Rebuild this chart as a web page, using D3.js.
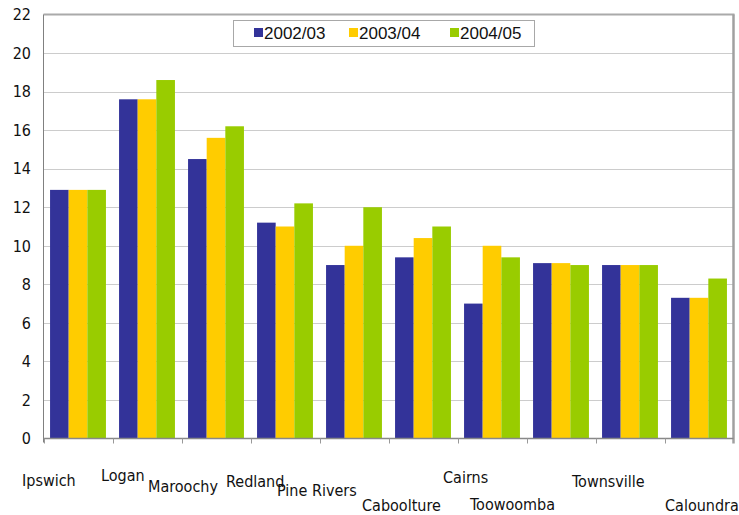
<!DOCTYPE html>
<html>
<head>
<meta charset="utf-8">
<script src="https://cdn.jsdelivr.net/npm/d3@7/dist/d3.min.js"></script>
<style>
  html, body { margin: 0; padding: 0; background: #fff; }
  svg { display: block; }
  .tick-label, .cat-label { font-family: "DejaVu Sans Condensed", "DejaVu Sans", sans-serif; font-stretch: condensed; font-size: 16px; fill: #111; }
  .legend-text { font-family: "Liberation Sans", Arial, sans-serif; font-size: 17px; fill: #111; }
</style>
</head>
<body>
<svg id="chart" width="739" height="515"></svg>
<script>
// Local government areas, in display order
const categories = ["Ipswich", "Logan", "Maroochy", "Redland", "Pine Rivers",
                    "Caboolture", "Cairns", "Toowoomba", "Townsville", "Caloundra"];
const seriesNames = ["2002/03", "2003/04", "2004/05"];
const values2002 = [12.9, 17.6, 14.5, 11.2, 9.0, 9.4, 7.0, 9.1, 9.0, 7.3];
const values2003 = [12.9, 17.6, 15.6, 11.0, 10.0, 10.4, 10.0, 9.1, 9.0, 7.3];
const values2004 = [12.9, 18.6, 16.2, 12.2, 12.0, 11.0, 9.4, 9.0, 9.0, 8.3];
const yTicks = [0, 2, 4, 6, 8, 10, 12, 14, 16, 18, 20, 22];

// Staggered category label placement: [x shift from band centre, baseline y]
const labelLayout = [
  [-56, 486], [-46, 481], [-68, 492], [-59, 487], [-77, 496],
  [-61, 511], [-49, 483], [-91, 510], [-58, 487], [-34, 511]
];

const colors = ["#333399", "#ffcc00", "#99cc00"];
const seriesValues = [values2002, values2003, values2004];

const svg = d3.select("#chart");
const plot = { left: 43.5, right: 733.5, top: 14.5, bottom: 438.5 };

const x = d3.scaleBand()
  .domain(categories)
  .range([plot.left, plot.right])
  .paddingInner(0.19)
  .paddingOuter(0.095);

const xSub = d3.scaleBand()
  .domain(seriesNames)
  .range([0, x.bandwidth()]);

const y = d3.scaleLinear()
  .domain([0, 22])
  .range([plot.bottom, plot.top]);

// Horizontal gridlines
svg.append("g")
  .selectAll("line")
  .data(yTicks.filter(t => t > 0 && t < 22))
  .join("line")
  .attr("x1", plot.left)
  .attr("x2", plot.right)
  .attr("y1", d => Math.round(y(d)) + 0.5)
  .attr("y2", d => Math.round(y(d)) + 0.5)
  .attr("stroke", "#cccccc")
  .attr("stroke-width", 1);

// Bars
const groups = svg.append("g")
  .selectAll("g")
  .data(categories)
  .join("g")
  .attr("transform", d => `translate(${x(d)},0)`);

groups.selectAll("rect")
  .data((d, i) => seriesNames.map((s, j) => ({ s, v: seriesValues[j][i], j })))
  .join("rect")
  .attr("x", d => xSub(d.s))
  .attr("width", xSub.bandwidth())
  .attr("y", d => y(d.v))
  .attr("height", d => y(0) - y(d.v))
  .attr("fill", d => colors[d.j]);

// Plot frame: top and right edges
svg.append("line")
  .attr("x1", plot.left).attr("x2", plot.right + 1)
  .attr("y1", plot.top).attr("y2", plot.top)
  .attr("stroke", "#aaaaaa").attr("stroke-width", 2);
svg.append("line")
  .attr("x1", plot.right).attr("x2", plot.right)
  .attr("y1", plot.top).attr("y2", plot.bottom + 5)
  .attr("stroke", "#a0a0a0").attr("stroke-width", 2.5);

// Y axis line and labels
svg.append("line")
  .attr("x1", plot.left).attr("x2", plot.left)
  .attr("y1", plot.top).attr("y2", plot.bottom + 4)
  .attr("stroke", "#808080").attr("stroke-width", 1);

svg.append("g")
  .selectAll("text")
  .data(yTicks)
  .join("text")
  .attr("class", "tick-label")
  .attr("x", 31)
  .attr("y", d => y(d))
  .attr("dy", "0.36em")
  .attr("text-anchor", "end")
  .text(d => d);

// X axis line and category boundary ticks
svg.append("line")
  .attr("x1", plot.left).attr("x2", plot.right)
  .attr("y1", plot.bottom).attr("y2", plot.bottom)
  .attr("stroke", "#888888").attr("stroke-width", 1.5);

const step = x.step();
const boundaries = categories.map(c => x(c) - x.paddingOuter() * step);
svg.append("g")
  .selectAll("line")
  .data(boundaries)
  .join("line")
  .attr("x1", d => Math.round(d) + 0.5)
  .attr("x2", d => Math.round(d) + 0.5)
  .attr("y1", plot.bottom)
  .attr("y2", plot.bottom + 5)
  .attr("stroke", "#999999").attr("stroke-width", 1);

// Category labels
svg.append("g")
  .selectAll("text")
  .data(categories)
  .join("text")
  .attr("class", "cat-label")
  .attr("x", (d, i) => x(d) + x.bandwidth() / 2 + labelLayout[i][0])
  .attr("y", (d, i) => labelLayout[i][1])
  .text(d => d);

// Legend
const legend = svg.append("g");
legend.append("rect")
  .attr("x", 233.5).attr("y", 20.5)
  .attr("width", 301).attr("height", 26)
  .attr("fill", "#fff")
  .attr("stroke", "#a8a8a8").attr("stroke-width", 1);

const legendX = [254, 349, 450];
const items = legend.selectAll("g.item")
  .data(seriesNames)
  .join("g")
  .attr("class", "item")
  .attr("transform", (d, i) => `translate(${legendX[i]},0)`);
items.append("rect")
  .attr("x", 0).attr("y", 28)
  .attr("width", 9).attr("height", 9)
  .attr("fill", (d, i) => colors[i]);
items.append("text")
  .attr("class", "legend-text")
  .attr("x", 10)
  .attr("y", 39)
  .text(d => d);
</script>
</body>
</html>
